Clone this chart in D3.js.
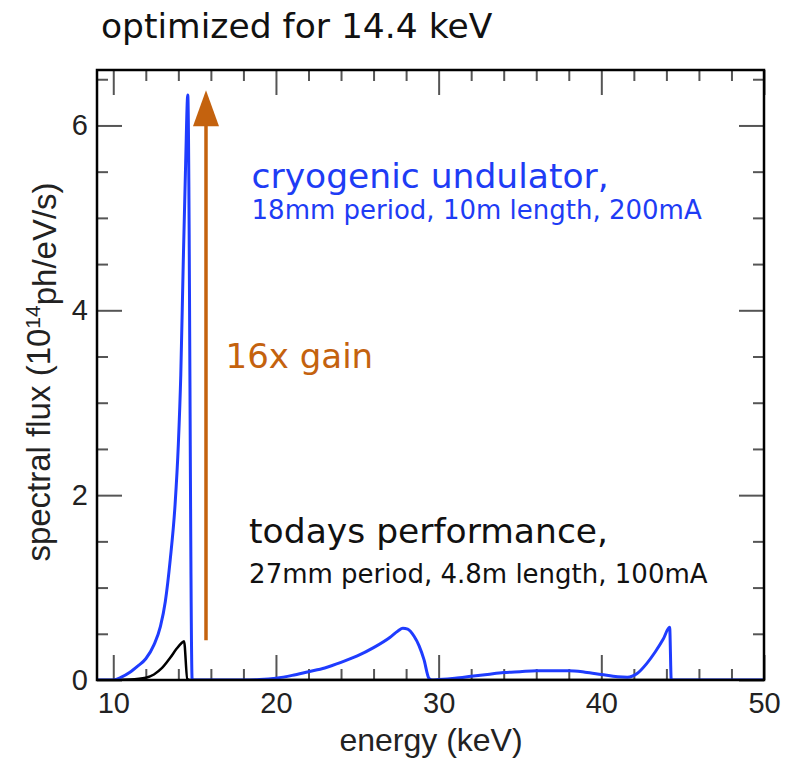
<!DOCTYPE html>
<html>
<head>
<meta charset="utf-8">
<script src="https://cdn.jsdelivr.net/npm/d3@7"></script>
<style>
  html, body { margin: 0; padding: 0; background: #fff; }
  svg { display: block; }
</style>
</head>
<body>
<div id="chart"></div>
<script>
// blue: cryogenic undulator, black: todays performance (energy keV, flux 1e14 ph/eV/s)
const blueEnergy = [9.0, 10.0, 10.5, 11.0, 11.5, 12.0, 12.5, 12.9, 13.2, 13.5, 13.8, 14.0, 14.15, 14.3, 14.45, 14.58, 14.85,
  18.0, 19.0, 20.0, 21.0, 22.0, 23.0, 24.0, 25.0, 26.0, 27.0, 27.5, 27.8, 28.1, 28.5, 28.8, 29.1, 29.4, 29.6,
  30.0, 31.0, 32.0, 33.0, 34.0, 35.0, 36.0, 37.0, 38.0, 39.0, 40.0, 41.0, 41.6, 42.2, 42.8, 43.3, 43.8, 44.2, 44.3, 50.0];
const blueFlux = [0, 0, 0.03, 0.08, 0.15, 0.23, 0.38, 0.58, 0.85, 1.3, 1.9, 2.55, 3.3, 4.5, 5.6, 6.33, 0,
  0, 0.005, 0.02, 0.05, 0.09, 0.13, 0.19, 0.26, 0.35, 0.46, 0.53, 0.56, 0.55, 0.47, 0.37, 0.22, 0.02, 0,
  0.005, 0.02, 0.04, 0.06, 0.08, 0.09, 0.1, 0.1, 0.1, 0.085, 0.06, 0.035, 0.03, 0.07, 0.18, 0.3, 0.44, 0.57, 0, 0];

const blackEnergy = [9.0, 10.0, 11.0, 12.0, 12.5, 13.0, 13.5, 13.9, 14.2, 14.35, 14.55, 14.7, 50.0];
const blackFlux = [0, 0, 0.005, 0.025, 0.06, 0.13, 0.24, 0.34, 0.4, 0.42, 0.01, 0, 0];

const xMajor = [10, 20, 30, 40, 50];
const xMinor = [12, 14, 16, 18, 22, 24, 26, 28, 32, 34, 36, 38, 42, 44, 46, 48];
const yMajor = [0, 2, 4, 6];
const yMinor = [0.5, 1, 1.5, 2.5, 3, 3.5, 4.5, 5, 5.5, 6.5];

const gainArrow = { energy: 15.7, from: 0.43, to: 6.38 };

const notes = [
  { text: "cryogenic undulator,", e: 18.5, f: 5.32, size: 34.5, color: "#1e3cf5" },
  { text: "18mm period, 10m length, 200mA", e: 18.5, f: 4.99, size: 26, color: "#1e3cf5" },
  { text: "16x gain", e: 16.9, f: 3.38, size: 34, color: "#c4620e" },
  { text: "todays performance,", e: 18.35, f: 1.48, size: 34.5, color: "#111" },
  { text: "27mm period, 4.8m length, 100mA", e: 18.35, f: 1.05, size: 26, color: "#111" }
];

const W = 787, H = 763;
const margin = { top: 70, right: 23, bottom: 83, left: 97 };
const innerW = W - margin.left - margin.right;
const innerH = H - margin.top - margin.bottom;

const svg = d3.select("#chart").append("svg")
  .attr("width", W)
  .attr("height", H);

svg.append("text")
  .attr("x", 101)
  .attr("y", 38)
  .attr("font-family", "DejaVu Sans")
  .attr("font-size", 34.5)
  .attr("fill", "#111")
  .text("optimized for 14.4 keV");

const g = svg.append("g")
  .attr("transform", `translate(${margin.left},${margin.top})`);

const x = d3.scaleLinear().domain([9, 50]).range([0, innerW]);
const y = d3.scaleLinear().domain([0, 6.6]).range([innerH, 0]);

g.append("clipPath").attr("id", "plot-clip")
  .append("rect").attr("width", innerW).attr("height", innerH);

// ticks, all pointing into the plot, mirrored on the opposite sides
const tickColor = "#555";
const axes = [
  { ax: d3.axisBottom(x).tickValues(xMajor), len: 25, labels: true, pad: 12, t: `translate(0,${innerH})` },
  { ax: d3.axisBottom(x).tickValues(xMinor), len: 11, t: `translate(0,${innerH})` },
  { ax: d3.axisTop(x).tickValues(xMajor), len: 25 },
  { ax: d3.axisTop(x).tickValues(xMinor), len: 11 },
  { ax: d3.axisLeft(y).tickValues(yMajor), len: 25, labels: true, pad: 9 },
  { ax: d3.axisLeft(y).tickValues(yMinor), len: 11 },
  { ax: d3.axisRight(y).tickValues(yMajor), len: 25, t: `translate(${innerW},0)` },
  { ax: d3.axisRight(y).tickValues(yMinor), len: 11, t: `translate(${innerW},0)` }
];
axes.forEach(a => {
  const sel = g.append("g")
    .attr("transform", a.t || "translate(0,0)")
    .call(a.ax.tickSize(-a.len).tickPadding(a.pad || 10).tickFormat(a.labels ? d3.format("d") : ""));
  sel.select(".domain").remove();
  sel.selectAll(".tick line").attr("stroke", tickColor).attr("stroke-width", 2);
  sel.selectAll(".tick text")
    .attr("font-family", "Liberation Sans, Arial, sans-serif")
    .attr("font-size", 29)
    .attr("fill", "#222");
});

// data lines
const line = d3.line()
  .x(d => x(d[0]))
  .y(d => y(d[1]))
  .curve(d3.curveMonotoneX);

const plot = g.append("g").attr("clip-path", "url(#plot-clip)");

plot.append("path")
  .datum(d3.zip(blackEnergy, blackFlux))
  .attr("fill", "none")
  .attr("stroke", "#000")
  .attr("stroke-width", 2.5)
  .attr("d", line);

plot.append("path")
  .datum(d3.zip(blueEnergy, blueFlux))
  .attr("fill", "none")
  .attr("stroke", "#1f3cff")
  .attr("stroke-width", 3)
  .attr("stroke-linejoin", "round")
  .attr("d", line);

// gain arrow
const ax = x(gainArrow.energy), ayTip = y(gainArrow.to), headLen = 36, headHalf = 13;
g.append("line")
  .attr("x1", ax).attr("x2", ax)
  .attr("y1", y(gainArrow.from)).attr("y2", ayTip + headLen - 2)
  .attr("stroke", "#c4620e")
  .attr("stroke-width", 3.5);
g.append("path")
  .attr("d", `M${ax},${ayTip} L${ax + headHalf},${ayTip + headLen} L${ax - headHalf},${ayTip + headLen} Z`)
  .attr("fill", "#c4620e");

// frame
g.append("rect")
  .attr("width", innerW)
  .attr("height", innerH)
  .attr("fill", "none")
  .attr("stroke", "#000")
  .attr("stroke-width", 2.5);

// annotations
g.selectAll("text.note")
  .data(notes)
  .enter()
  .append("text")
  .attr("class", "note")
  .attr("x", d => x(d.e))
  .attr("y", d => y(d.f))
  .attr("font-family", "DejaVu Sans")
  .attr("font-size", d => d.size)
  .attr("fill", d => d.color)
  .text(d => d.text);

// axis titles
svg.append("text")
  .attr("x", 431)
  .attr("y", 751)
  .attr("text-anchor", "middle")
  .attr("font-family", "Liberation Sans, Arial, sans-serif")
  .attr("font-size", 32)
  .attr("fill", "#222")
  .text("energy (keV)");

const yTitle = svg.append("text")
  .attr("transform", "translate(50,372) rotate(-90)")
  .attr("text-anchor", "middle")
  .attr("font-family", "Liberation Sans, Arial, sans-serif")
  .attr("font-size", 33)
  .attr("fill", "#222");
yTitle.append("tspan").text("spectral flux (10");
yTitle.append("tspan").attr("dy", "-0.5em").attr("font-size", 21).text("14");
yTitle.append("tspan").attr("dy", "0.5em").text("ph/eV/s)");
</script>
</body>
</html>
